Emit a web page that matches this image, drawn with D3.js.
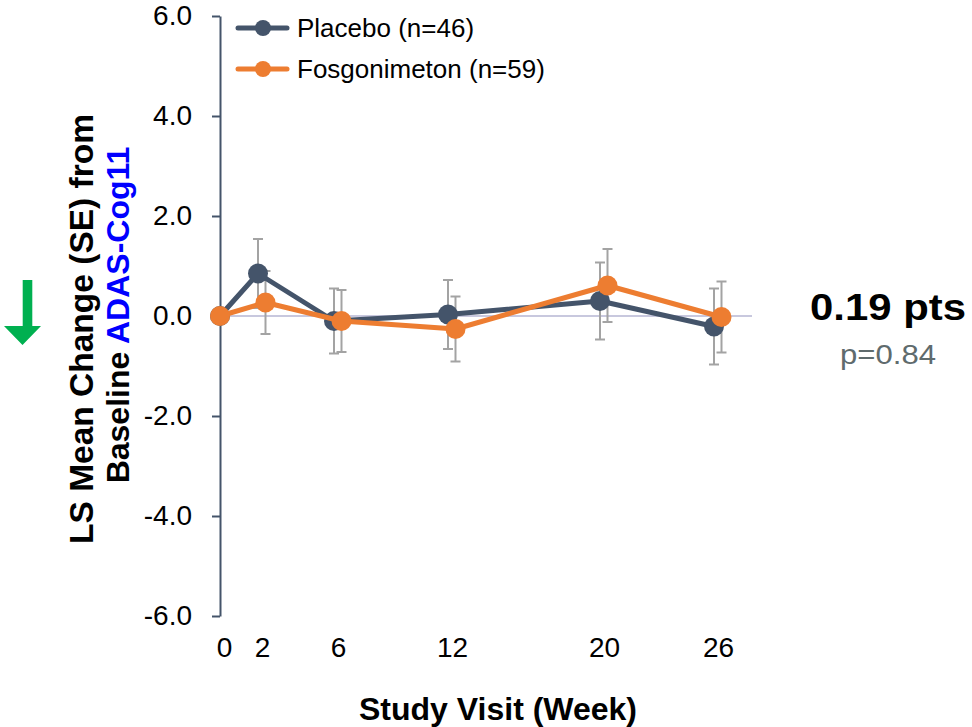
<!DOCTYPE html>
<html>
<head>
<meta charset="utf-8">
<script src="https://cdn.jsdelivr.net/npm/d3@7"></script>
<style>
  body { margin: 0; background: #fff; }
  text { font-family: "Liberation Sans", Arial, sans-serif; }
</style>
</head>
<body>
<script>
/* Data */

var WEEKS        = [0, 2, 6, 12, 20, 26];
var PLACEBO      = [0, 0.85, -0.10, 0.03, 0.30, -0.21];
var PLACEBO_SE   = [null, 0.69, 0.65, 0.69, 0.77, 0.76];
var FOSGO        = [0, 0.27, -0.10, -0.26, 0.61, -0.02];
var FOSGO_SE     = [null, 0.63, 0.62, 0.65, 0.73, 0.71];
var Y_TICKS      = [-6, -4, -2, 0, 2, 4, 6];
var SERIES_NAMES = ["Placebo (n=46)", "Fosgonimeton (n=59)"];
var DIFF_LABEL   = "0.19 pts",
    P_LABEL      = "p=0.84";

/* Measures */

var W = 972,
    H = 727;

var PLOT = { left: 220, top: 16, bottom: 616, weekEnd: 714 }
   ,DOT_R      = 10
   ,LINE_W     = 5
   ,CAP_HALF   = 5
   ,DODGE      = 7.5
   ,TICK_FONT  = 28;

var COLORS = { placebo: "#44546a", fosgo: "#ed7d31", err: "#a3a3a3",
               axis: "#44546a", zero: "#c8c8de", arrow: "#00b050" };

var svg = d3.select("body").append("svg")
	.attr("width", W)
	.attr("height", H);

var x = d3.scaleLinear().domain([0, 26]).range([PLOT.left, PLOT.weekEnd]);
var y = d3.scaleLinear().domain([-6, 6]).range([PLOT.bottom, PLOT.top]);

function series(vals, se, dodge) {
	return WEEKS.map(function(w, i) {
		return { week: w, v: vals[i], se: se[i], dx: w > 0 ? dodge : 0 };
	});
}

var placebo = series(PLACEBO, PLACEBO_SE, 0),
    fosgo   = series(FOSGO, FOSGO_SE, DODGE);

/* zero reference line */
svg.append("line")
	.attr("x1", x(0)).attr("x2", x(28))
	.attr("y1", y(0)).attr("y2", y(0))
	.attr("stroke", COLORS.zero)
	.attr("stroke-width", 2);

/* y axis */
var yAxis = svg.append("g")
	.attr("transform", "translate(" + PLOT.left + ",0)")
	.call(d3.axisLeft(y).tickValues(Y_TICKS).tickSize(8).tickSizeOuter(0).tickPadding(20)
		.tickFormat(function(d) { return d.toFixed(1); }));
yAxis.select(".domain").attr("stroke", COLORS.axis).attr("stroke-width", 2);
yAxis.selectAll(".tick line").attr("stroke", COLORS.axis).attr("stroke-width", 2);
yAxis.selectAll("text")
	.attr("font-size", TICK_FONT)
	.attr("font-family", "Liberation Sans, Arial, sans-serif")
	.attr("fill", "#000");

/* x axis labels only */
var xAxis = svg.append("g")
	.attr("transform", "translate(4," + PLOT.bottom + ")")
	.call(d3.axisBottom(x).tickValues(WEEKS).tickSize(0).tickPadding(21));
xAxis.select(".domain").remove();
xAxis.selectAll("text")
	.attr("font-size", TICK_FONT)
	.attr("font-family", "Liberation Sans, Arial, sans-serif")
	.attr("fill", "#000");

/* error bars */
function drawErrors(data) {
	var g = svg.append("g")
		.attr("stroke", COLORS.err)
		.attr("stroke-width", 2)
		.selectAll("g")
		.data(data.filter(function(d) { return d.se != null; }))
		.enter().append("g");
	g.append("line")
		.attr("x1", function(d) { return x(d.week) + d.dx; })
		.attr("x2", function(d) { return x(d.week) + d.dx; })
		.attr("y1", function(d) { return y(d.v + d.se); })
		.attr("y2", function(d) { return y(d.v - d.se); });
	[1, -1].forEach(function(s) {
		g.append("line")
			.attr("x1", function(d) { return x(d.week) + d.dx - CAP_HALF; })
			.attr("x2", function(d) { return x(d.week) + d.dx + CAP_HALF; })
			.attr("y1", function(d) { return y(d.v + s * d.se); })
			.attr("y2", function(d) { return y(d.v + s * d.se); });
	});
}
drawErrors(placebo);
drawErrors(fosgo);

/* series lines and markers */
var line = d3.line()
	.x(function(d) { return x(d.week) + d.dx; })
	.y(function(d) { return y(d.v); });

function drawSeries(data, color) {
	svg.append("path")
		.datum(data)
		.attr("d", line)
		.attr("fill", "none")
		.attr("stroke", color)
		.attr("stroke-width", LINE_W)
		.attr("stroke-linejoin", "round");
	svg.append("g").selectAll("circle")
		.data(data)
		.enter().append("circle")
		.attr("cx", function(d) { return x(d.week) + d.dx; })
		.attr("cy", function(d) { return y(d.v); })
		.attr("r", DOT_R)
		.attr("fill", color);
}
drawSeries(placebo, COLORS.placebo);
drawSeries(fosgo, COLORS.fosgo);

/* legend */
var legend = svg.append("g").selectAll("g")
	.data([{ name: SERIES_NAMES[0], c: COLORS.placebo },
	       { name: SERIES_NAMES[1], c: COLORS.fosgo }])
	.enter().append("g")
	.attr("transform", function(d, i) { return "translate(238," + (28 + i * 41) + ")"; });
legend.append("line")
	.attr("x1", 0).attr("x2", 49)
	.attr("stroke", function(d) { return d.c; })
	.attr("stroke-width", LINE_W)
	.attr("stroke-linecap", "round");
legend.append("circle")
	.attr("cx", 25).attr("r", 8)
	.attr("fill", function(d) { return d.c; });
legend.append("text")
	.attr("x", 59).attr("y", 9)
	.attr("font-size", 26)
	.text(function(d) { return d.name; });

/* axis titles */
svg.append("text")
	.attr("x", 498).attr("y", 720)
	.attr("text-anchor", "middle")
	.attr("font-size", 32)
	.attr("font-weight", "bold")
	.text("Study Visit (Week)");

var yt = svg.append("g")
	.attr("font-weight", "bold")
	.attr("text-anchor", "middle");
yt.append("text")
	.attr("transform", "translate(93,329) rotate(-90)")
	.attr("font-size", 33.5)
	.text("LS Mean Change (SE) from");
var l2 = yt.append("text")
	.attr("transform", "translate(129,315) rotate(-90)")
	.attr("font-size", 32);
l2.append("tspan").text("Baseline ");
l2.append("tspan").attr("fill", "#0000ff").text("ADAS-Cog11");

/* green arrow (lower is better) */
svg.append("path")
	.attr("d", "M22.7,280 L32.3,280 L32.3,326 L41,326 L22.5,345 L4,326 L22.7,326 Z")
	.attr("fill", COLORS.arrow);

/* difference annotation */
svg.append("text")
	.attr("x", 888).attr("y", 320)
	.attr("text-anchor", "middle")
	.attr("font-size", 37)
	.attr("font-weight", "bold")
	.attr("textLength", 156)
	.attr("lengthAdjust", "spacingAndGlyphs")
	.text(DIFF_LABEL);
svg.append("text")
	.attr("x", 888).attr("y", 364)
	.attr("text-anchor", "middle")
	.attr("font-size", 27)
	.attr("fill", "#5f6b6d")
	.attr("textLength", 96)
	.attr("lengthAdjust", "spacingAndGlyphs")
	.text(P_LABEL);
</script>
</body>
</html>
